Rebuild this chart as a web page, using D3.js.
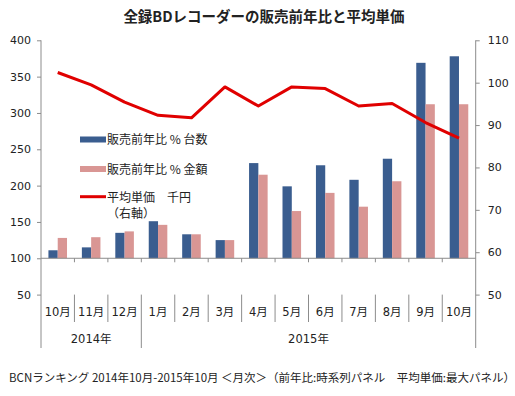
<!DOCTYPE html>
<html><head><meta charset="utf-8">
<script src="https://cdn.jsdelivr.net/npm/d3@7"></script>
<style>
body{margin:0;background:#fff;}
svg{display:block;}
text{font-family:"DejaVu Sans","Noto Sans CJK JP",sans-serif;fill:#222;}
</style></head>
<body>
<svg id="c" width="515" height="396"></svg>
<script>
const title = "全録BDレコーダーの販売前年比と平均単価";
const months = ["10月","11月","12月","1月","2月","3月","4月","5月","6月","7月","8月","9月","10月"];
const years = ["2014年","2015年"];
const yearSpans = [3, 10];
const unitsYoY = [111, 115, 135, 151, 133, 125, 231, 199, 228, 208, 237, 369, 378];
const amountYoY = [128, 129, 137, 146, 133, 125, 215, 165, 190, 171, 206, 312, 312];
const avgPrice = [102.4, 99.5, 95.4, 92.3, 91.7, 99.0, 94.5, 99.0, 98.6, 94.5, 95.1, 90.6, 86.9];
const leftTicks = [50, 100, 150, 200, 250, 300, 350, 400];
const rightTicks = [50, 60, 70, 80, 90, 100, 110];
const seriesNames = ["販売前年比 % 台数", "販売前年比 % 金額", "平均単価　千円", "（右軸）"];
const footer = "BCNランキング 2014年10月-2015年10月 ＜月次＞（前年比:時系列パネル　平均単価:最大パネル）";

const colors = {units:"#3a5d8f", amount:"#d99694", line:"#e00000", axis:"#8c8c8c"};
const svg = d3.select("#c");
const L = 41, R = 475.7, T = 40.3, B = 294.6, BOT = 348;

const x = d3.scaleBand().domain(d3.range(months.length)).range([L, R]).padding(0);
const xs = d3.scaleBand().domain(["u","a"]).range([0, x.bandwidth()]).paddingInner(0).paddingOuter(0.8);
const yL = d3.scaleLinear().domain([50, 400]).range([B, T]);
const yR = d3.scaleLinear().domain([50, 110]).range([B, T]);

// title
svg.append("text").attr("x", 264).attr("y", 22).attr("text-anchor","middle")
  .style("font-family","'Noto Sans CJK JP',sans-serif").style("font-weight","bold").style("font-size","14.5px")
  .text(title);

// left axis
const gl = svg.append("g").attr("transform",`translate(${L},0)`)
  .call(d3.axisLeft(yL).tickValues(leftTicks).tickSize(4).tickPadding(6).tickFormat(d3.format("d")));
gl.select(".domain").remove();
gl.selectAll("line").attr("stroke", colors.axis);
gl.selectAll("text").style("font-family","'DejaVu Sans',sans-serif").style("font-size","11px").attr("fill","#222");
svg.append("line").attr("x1",L).attr("x2",L).attr("y1",T).attr("y2",BOT).attr("stroke",colors.axis);

// right axis
const gr = svg.append("g").attr("transform",`translate(${R},0)`)
  .call(d3.axisRight(yR).tickValues(rightTicks).tickSize(4).tickPadding(8).tickFormat(d3.format("d")));
gr.select(".domain").remove();
gr.selectAll("line").attr("stroke", colors.axis);
gr.selectAll("text").style("font-family","'DejaVu Sans',sans-serif").style("font-size","11px").attr("fill","#222");
svg.append("line").attr("x1",R).attr("x2",R).attr("y1",T).attr("y2",BOT).attr("stroke",colors.axis);

// bars
const bars = svg.append("g");
bars.selectAll("rect.u").data(unitsYoY).join("rect").attr("class","u")
  .attr("x",(d,i)=>x(i)+xs("u")).attr("width",xs.bandwidth())
  .attr("y",d=>Math.min(yL(d),yL(100))).attr("height",d=>Math.abs(yL(100)-yL(d)))
  .attr("fill",colors.units);
bars.selectAll("rect.a").data(amountYoY).join("rect").attr("class","a")
  .attr("x",(d,i)=>x(i)+xs("a")).attr("width",xs.bandwidth())
  .attr("y",d=>Math.min(yL(d),yL(100))).attr("height",d=>Math.abs(yL(100)-yL(d)))
  .attr("fill",colors.amount);

// category axis at 100
const y100 = yL(100);
svg.append("line").attr("x1",L).attr("x2",R).attr("y1",y100).attr("y2",y100).attr("stroke",colors.axis);
const bounds = d3.range(months.length + 1).map(i => i < months.length ? x(i) : R);
svg.append("g").selectAll("line").data(bounds.slice(1, -1)).join("line")
  .attr("x1",d=>d).attr("x2",d=>d).attr("y1",y100).attr("y2",y100+4).attr("stroke",colors.axis);

// month labels & separators
let cum = 0; const yearBounds = [0];
yearSpans.forEach(s => { cum += s; yearBounds.push(cum); });
svg.append("g").selectAll("line").data(d3.range(1, months.length).filter(i => !yearBounds.includes(i))).join("line")
  .attr("x1",i=>bounds[i]).attr("x2",i=>bounds[i]).attr("y1",B).attr("y2",322).attr("stroke",colors.axis);
svg.append("g").selectAll("line").data(yearBounds.slice(1,-1)).join("line")
  .attr("x1",i=>bounds[i]).attr("x2",i=>bounds[i]).attr("y1",B).attr("y2",BOT).attr("stroke",colors.axis);
svg.append("g").selectAll("text").data(months).join("text")
  .attr("x",(d,i)=>x(i)+x.bandwidth()/2).attr("y",316).attr("text-anchor","middle")
  .style("font-size","11.5px").text(d=>d);
svg.append("g").selectAll("text").data(years).join("text")
  .attr("x",(d,i)=>(bounds[yearBounds[i]]+bounds[yearBounds[i+1]])/2).attr("y",343).attr("text-anchor","middle")
  .style("font-size","11.5px").text(d=>d);

// line
const line = d3.line().x((d,i)=>x(i)+x.bandwidth()/2).y(d=>yR(d));
svg.append("path").datum(avgPrice).attr("d",line).attr("fill","none")
  .attr("stroke",colors.line).attr("stroke-width",3).attr("stroke-linejoin","round");

// legend
const lg = svg.append("g");
const lx = 80, lw = 26;
lg.append("rect").attr("x",lx).attr("y",136.5).attr("width",lw).attr("height",6).attr("fill",colors.units);
lg.append("rect").attr("x",lx).attr("y",166).attr("width",lw).attr("height",6).attr("fill",colors.amount);
lg.append("line").attr("x1",lx).attr("x2",lx+lw).attr("y1",196.7).attr("y2",196.7).attr("stroke",colors.line).attr("stroke-width",3);
const ltx = 107;
[[seriesNames[0],144],[seriesNames[1],173.5],[seriesNames[2],201.5],[seriesNames[3],218]].forEach(([t,yy])=>{
  lg.append("text").attr("x",ltx).attr("y",yy).style("font-family","'Noto Sans CJK JP',sans-serif").style("font-size","12px").text(t);
});

// footer
svg.append("text").attr("x",9).attr("y",382)
  .style("font-family","'Noto Sans CJK JP',sans-serif").style("font-size","11.5px").text(footer);
</script>
</body></html>
